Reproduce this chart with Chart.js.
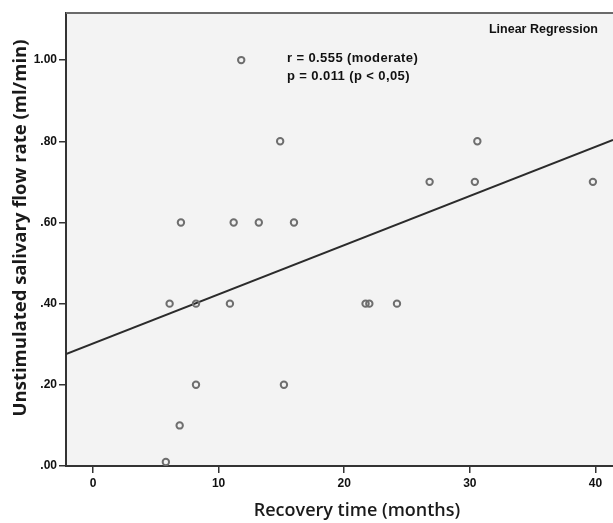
<!DOCTYPE html>
<html>
<head>
<meta charset="utf-8">
<script src="https://cdn.jsdelivr.net/npm/chart.js@4/dist/chart.umd.min.js"></script>
<style>
  html, body { margin: 0; padding: 0; background: #fff; }
  #wrap { width: 613px; height: 523px; }
</style>
</head>
<body>
<div id="wrap"><canvas id="flow" width="613" height="523"></canvas></div>
<script>
// recovery time (months) vs unstimulated flow rate (ml/min)
const recoveryMonths = [5.8, 6.1, 6.9, 7.0, 8.2, 8.2, 10.9, 11.2, 11.8, 13.2, 14.9, 15.2, 16.0, 21.7, 22.0, 24.2, 26.8, 30.4, 30.6, 39.8];
const flowRate = [0.01, 0.40, 0.10, 0.60, 0.40, 0.20, 0.40, 0.60, 1.00, 0.60, 0.80, 0.20, 0.60, 0.40, 0.40, 0.40, 0.70, 0.70, 0.80, 0.70];

// fitted line, end points at the plot edges
const fitX = [-2.15, 41.4];
const fitY = [0.276, 0.803];

const xTicks = [0, 10, 20, 30, 40];
const yTicks = [0, 0.2, 0.4, 0.6, 0.8, 1.0];

const xTitle = 'Recovery time (months)';
const yTitle = 'Unstimulated salivary flow rate (ml/min)';
const statLines = ['r = 0.555 (moderate)', 'p = 0.011 (p < 0,05)'];

const points = recoveryMonths.map((m, i) => ({x: m, y: flowRate[i]}));
const fitLine = fitX.map((x, i) => ({x: x, y: fitY[i]}));

const plotDecor = {
  id: 'plotDecor',
  beforeDraw(chart) {
    const {ctx, chartArea: a} = chart;
    ctx.save();
    ctx.fillStyle = '#f3f3f3';
    ctx.fillRect(a.left, a.top, a.right - a.left, a.bottom - a.top);
    ctx.restore();
  },
  afterDraw(chart) {
    const {ctx, chartArea: a} = chart;
    ctx.save();
    // top frame line
    ctx.strokeStyle = '#6a6a6a';
    ctx.lineWidth = 2;
    ctx.beginPath();
    ctx.moveTo(a.left, a.top);
    ctx.lineTo(a.right, a.top);
    ctx.stroke();

    ctx.fillStyle = '#111';
    ctx.textBaseline = 'middle';
    ctx.font = 'bold 12.5px "Liberation Sans"';
    ctx.textAlign = 'right';
    ctx.fillText('Linear Regression', 598, 30);

    ctx.textAlign = 'left';
    ctx.font = 'bold 13px "Liberation Sans"';
    ctx.letterSpacing = '0.4px';
    ctx.fillText(statLines[0], 287, 58);
    ctx.fillText(statLines[1], 287, 76);
    ctx.letterSpacing = '0px';

    // axis titles
    ctx.textAlign = 'center';
    ctx.fillStyle = '#1a1a1a';
    ctx.font = '600 18px "Open Sans"';
    ctx.fillText(xTitle, 357, 511);

    ctx.translate(21, 228);
    ctx.rotate(-Math.PI / 2);
    ctx.font = 'bold 18.5px "Open Sans"';
    ctx.fillText(yTitle, 0, 0);
    ctx.restore();
  }
};

new Chart(document.getElementById('flow'), {
  type: 'scatter',
  data: {
    datasets: [
      {
        label: 'Patients',
        data: points,
        pointRadius: 3.2,
        pointBorderWidth: 2,
        pointBorderColor: '#6e6e6e',
        pointBackgroundColor: 'rgba(0,0,0,0)',
        pointHoverRadius: 3.2
      },
      {
        label: 'Fit',
        type: 'line',
        data: fitLine,
        borderColor: '#2b2b2b',
        borderWidth: 2,
        pointRadius: 0,
        fill: false
      }
    ]
  },
  plugins: [plotDecor],
  options: {
    responsive: false,
    animation: false,
    layout: {autoPadding: false, padding: {top: 13, right: 0, left: 0, bottom: 0}},
    plugins: {legend: {display: false}, tooltip: {enabled: false}},
    scales: {
      x: {
        type: 'linear',
        min: fitX[0],
        max: fitX[1],
        afterFit(scale) {
          scale.height = 57;
          scale.paddingLeft = 0;
          scale.paddingRight = 0;
        },
        afterBuildTicks(scale) { scale.ticks = xTicks.map(v => ({value: v})); },
        border: {display: true, color: '#333', width: 2},
        grid: {drawOnChartArea: false, drawTicks: true, tickLength: 7, tickColor: '#333', lineWidth: 1.5},
        ticks: {
          padding: 3,
          color: '#111',
          font: {family: 'Liberation Sans', size: 12, weight: 'bold'}
        }
      },
      y: {
        min: 0,
        max: 1.116,
        afterFit(scale) {
          scale.width = 66;
          scale.paddingTop = 0;
          scale.paddingBottom = 0;
        },
        afterBuildTicks(scale) { scale.ticks = yTicks.map(v => ({value: v})); },
        border: {display: true, color: '#333', width: 2},
        grid: {drawOnChartArea: false, drawTicks: true, tickLength: 7, tickColor: '#333', lineWidth: 1.5},
        ticks: {
          padding: 2,
          color: '#111',
          font: {family: 'Liberation Sans', size: 12, weight: 'bold'},
          callback: v => v.toFixed(2).replace(/^0/, '')
        }
      }
    }
  }
});
</script>
</body>
</html>
